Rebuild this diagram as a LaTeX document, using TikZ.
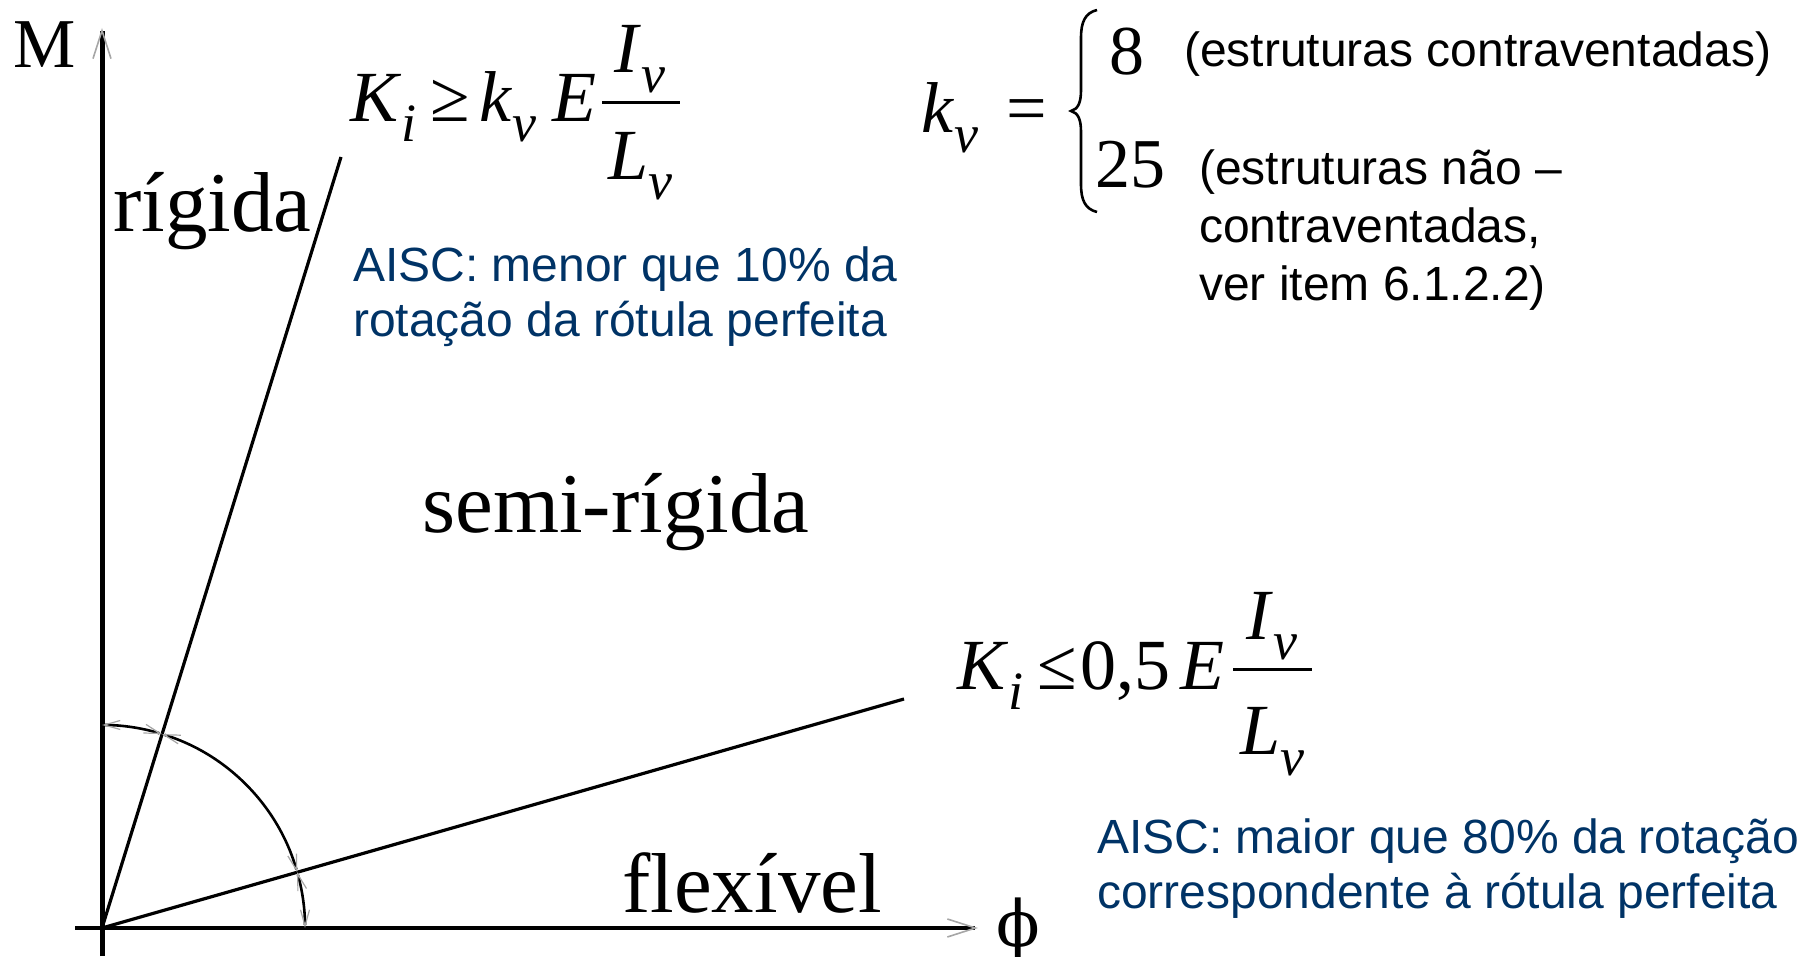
\documentclass[tikz,border=0pt]{standalone}
\usepackage{fontspec}
\setmainfont{Liberation Serif}
\newfontfamily\arialfont{Liberation Sans}
\newfontfamily\greekfont{DejaVu Serif}
\usetikzlibrary{arrows.meta,positioning}
\definecolor{aiscblue}{RGB}{0,51,102}
\newcommand{\idx}[1]{\raisebox{-20pt}{\fontsize{54}{54}\selectfont\itshape #1}}

\begin{document}
\begin{tikzpicture}[x=1pt, y=1pt,
    bigbarb/.tip={Straight Barb[length=28pt, width=18pt, line width=1.6pt, color=gray!70]},
    smallbarb/.tip={Straight Barb[length=16pt, width=9pt, line width=1.2pt, color=gray!70]},
    axis/.style={line width=5pt, -bigbarb},
    ray/.style={line width=3.2pt},
    angarc/.style={line width=2.6pt, smallbarb-smallbarb},
    fracbar/.style={line width=3pt},
    region/.style={font=\fontsize{85}{85}\selectfont, inner sep=0pt, anchor=base west},
    formula/.style={font=\fontsize{72}{72}\selectfont, inner sep=0pt},
    note/.style={font=\arialfont\fontsize{48}{55}\selectfont, text=aiscblue, align=left, inner sep=0pt, anchor=base west}
  ]
    \useasboundingbox (0,0) rectangle (1817,956);

    % axes and the two limit lines
    \coordinate (O) at (102,28);
    \coordinate (Mstart) at (102,0);
    \coordinate (Mend) at (102,928);
    \coordinate (Pstart) at (75,28);
    \coordinate (Pend) at (978,28);
    \coordinate (Rtop) at (341,799);
    \coordinate (Ftop) at (904,257);
    \draw[axis] (Mstart) -- (Mend);
    \draw[axis, line width=4.2pt] (Pstart) -- (Pend);
    \draw[ray] (O) -- (Rtop);
    \draw[ray] (O) -- (Ftop);

    % rotation arcs
    \draw[angarc] (O) ++(90:203) arc[start angle=90, end angle=72.78, radius=203];
    \draw[angarc] (O) ++(72.78:203) arc[start angle=72.78, end angle=15.94, radius=203];
    \draw[angarc] (O) ++(15.94:203) arc[start angle=15.94, end angle=0, radius=203];

    \node[font=\fontsize{70}{70}\selectfont, inner sep=0pt, anchor=base west] (mlab) at (13,888) {M};
    \node[font=\greekfont\fontsize{64}{64}\selectfont, inner sep=0pt, anchor=base] (philab) at (1018,10) {ϕ};

    \node[region] (rig) at (113,724) {rígida};
    \node[region] (semi) at (422,423) {semi-rígida};
    \node[region] (flex) at (622,44) {flexível};

    % K_i >= k_v E I_v/L_v
    \node[formula, anchor=base west] (kmin) at (350,834) {\textit{K}\idx{i}\hspace{14pt}≥\hspace{10pt}\textit{k}\idx{v}\hspace{16pt}\textit{E}};
    \coordinate (b1l) at (602,853);
    \coordinate (b1r) at (680,853);
    \draw[fracbar] (b1l) -- (b1r);
    \node[formula, anchor=base] (num1) at (640,883) {\textit{I}\idx{v}};
    \node[formula, anchor=base] (den1) at (640,776) {\textit{L}\idx{v}};

    % K_i <= 0,5 E I_v/L_v
    \node[formula, anchor=base west] (kmax) at (957,266) {\textit{K}\idx{i}\hspace{14pt}≤\hspace{4pt}0,5\hspace{10pt}\textit{E}};
    \coordinate (b2l) at (1233,286);
    \coordinate (b2r) at (1312,286);
    \draw[fracbar] (b2l) -- (b2r);
    \node[formula, anchor=base] (num2) at (1272,316) {\textit{I}\idx{v}};
    \node[formula, anchor=base] (den2) at (1272,201) {\textit{L}\idx{v}};

    % k_v cases
    \node[formula, anchor=base west] (kv) at (921,823) {\textit{k}\idx{v}\hspace{28pt}=};
    \draw[line width=2.6pt] (1097,946) .. controls (1085,943) and (1081,934) .. (1081,918)
      -- (1081,866) .. controls (1081,853) and (1078,847) .. (1071,845)
      .. controls (1078,843) and (1081,837) .. (1081,824)
      -- (1081,772) .. controls (1081,756) and (1085,747) .. (1097,744);
    \node[formula, font=\fontsize{70}{70}\selectfont, anchor=base west] (eight) at (1109,881) {8};
    \node[formula, font=\fontsize{70}{70}\selectfont, anchor=base west] (twentyfive) at (1095,768) {25};
    \node[note, text=black] (braced) at (1184,889) {(estruturas contraventadas)};
    \node[note, text=black, font=\arialfont\fontsize{48}{58}\selectfont] (unbraced) at (1199,655) {(estruturas não –\\contraventadas,\\ver item 6.1.2.2)};

    % AISC remarks
    \node[note] (aiscmin) at (353,619) {AISC: menor que 10\% da\\rotação da rótula perfeita};
    \node[note] (aiscmax) at (1097,48) {AISC: maior que 80\% da rotação\\correspondente à rótula perfeita};
  \end{tikzpicture}
\end{document}
